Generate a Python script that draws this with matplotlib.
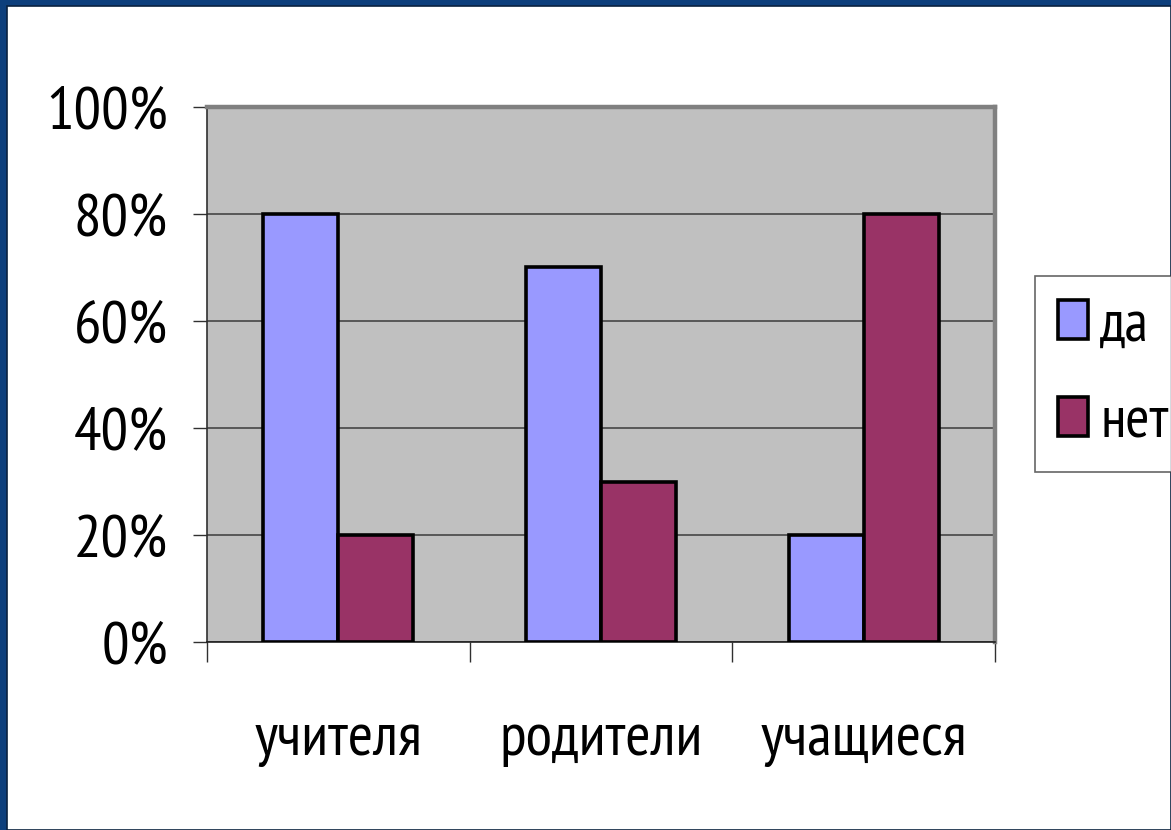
import matplotlib.pyplot as plt
from matplotlib.patches import Rectangle
from matplotlib.ticker import FixedLocator, PercentFormatter

plt.rcParams["font.family"] = ["PT Sans Narrow", "Liberation Sans", "DejaVu Sans"]

# данные
categories = ["учителя", "родители", "учащиеся"]
series_names = ["да", "нет"]
yes_values = [0.8, 0.7, 0.2]
no_values = [0.2, 0.3, 0.8]
y_ticks = [0.0, 0.2, 0.4, 0.6, 0.8, 1.0]

colors = ["#9999ff", "#993366"]

W, H = 1171, 830
fig = plt.figure(figsize=(W / 100, H / 100), dpi=100)
fig.patch.set_facecolor("#0d3f7c")

# белая "страница" поверх синей рамки
fig.patches.append(Rectangle((7 / W, 0), 1 - 7 / W, 1 - 6 / H,
                             transform=fig.transFigure, facecolor="white",
                             edgecolor="#0a2240", linewidth=1.2, zorder=-1))

ax = fig.add_axes([207 / W, 1 - 642 / H, 788 / W, 535 / H])
ax.set_facecolor("#c0c0c0")

bar_w = 0.285
x = list(range(len(categories)))
ax.bar([i - bar_w / 2 for i in x], yes_values, width=bar_w, color=colors[0],
       edgecolor="black", linewidth=2.6, label=series_names[0], zorder=3)
ax.bar([i + bar_w / 2 for i in x], no_values, width=bar_w, color=colors[1],
       edgecolor="black", linewidth=2.6, label=series_names[1], zorder=3)

ax.set_xlim(-0.5, len(categories) - 0.5)
ax.set_ylim(0, 1)
ax.yaxis.set_major_locator(FixedLocator(y_ticks))
ax.yaxis.set_major_formatter(PercentFormatter(1.0, decimals=0))
ax.yaxis.grid(True, color="#505050", linewidth=1.3)
ax.set_axisbelow(True)

ax.set_xticks(x)
ax.set_xticklabels(categories)
ax.set_xticks([i - 0.5 for i in range(len(categories) + 1)], minor=True)
ax.tick_params(axis="x", which="major", length=0, pad=51, labelsize=44)
ax.tick_params(axis="x", which="minor", length=14.5, width=1.0, direction="out",
               color="#303030")
ax.tick_params(axis="y", length=10, width=1.0, color="#303030", pad=18,
               labelsize=44)

for side in ("top", "right"):
    ax.spines[side].set_color("#808080")
    ax.spines[side].set_linewidth(3.2)
ax.spines["left"].set_color("#303030")
ax.spines["left"].set_linewidth(1.2)
ax.spines["bottom"].set_color("#202020")
ax.spines["bottom"].set_linewidth(1.2)

leg = fig.legend(loc="upper left", bbox_to_anchor=(1035 / W, 1 - 276 / H),
                 borderaxespad=0, fontsize=42, frameon=True, fancybox=False,
                 handlelength=0.5, handleheight=0.65, handletextpad=0.22,
                 labelspacing=0.75, borderpad=0.4)
leg.get_frame().set_edgecolor("#404040")
leg.get_frame().set_linewidth(1.2)

fig.savefig("out.png", dpi=100, facecolor=fig.get_facecolor())
